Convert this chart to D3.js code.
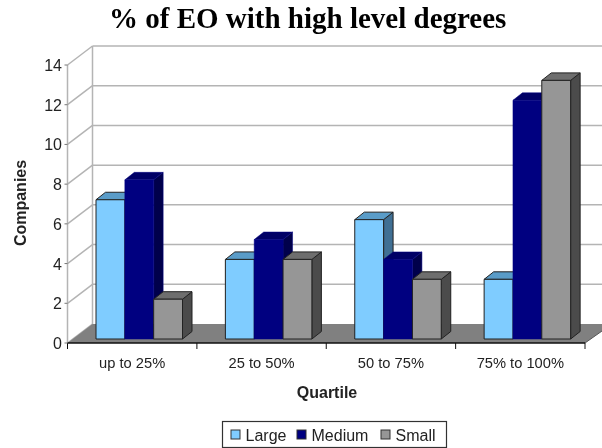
<!DOCTYPE html>
<html><head><meta charset="utf-8">
<script src="https://cdn.jsdelivr.net/npm/d3@7"></script>
<style>html,body{margin:0;padding:0;background:#fff}svg{display:block}text{font-family:"Liberation Sans",Arial,sans-serif;fill:#222}</style>
</head><body><svg id="c" width="602" height="448"></svg>
<script>
const categories = ["up to 25%", "25 to 50%", "50 to 75%", "75% to 100%"];
const seriesNames = ["Large", "Medium", "Small"];
const large = [7, 4, 6, 3];
const medium = [8, 5, 4, 12];
const small = [2, 4, 3, 13];
const valueTicks = [0, 2, 4, 6, 8, 10, 12, 14];
const fills = ["#7FCCFF", "#000080", "#969696"];
const tops = ["#5A9CC8", "#000066", "#6E6E6E"];
const sides = ["#3F6F94", "#00004C", "#4B4B4B"];

const svg = d3.select("#c");
svg.append("defs").append("filter").attr("id", "soft").attr("x", "-2%").attr("y", "-2%").attr("width", "104%").attr("height", "104%")
  .append("feGaussianBlur").attr("stdDeviation", 0.4);
const root = svg.append("g").attr("filter", "url(#soft)");

const dx = 25, dy = -19;
const x = d3.scaleBand().domain(categories).range([67.5, 585]);
const y = d3.scaleLinear().domain([0, 14]).range([343, 65]);
const barY = d3.scaleLinear().domain([0, 14]).range([339, 60.5]);
const inner = d3.scaleBand().domain(seriesNames).range([28.5, 115]);
const all = [large, medium, small];
const grid = "#b4b4b4";
const x0 = x.range()[0], x1 = x.range()[1];

// walls
const g = root.append("g");
valueTicks.forEach(v => {
  g.append("line").attr("x1", x0).attr("y1", y(v)).attr("x2", x0 + dx).attr("y2", y(v) + dy)
    .attr("stroke", grid).attr("stroke-width", 1.5);
  if (v > 0) g.append("line").attr("x1", x0 + dx).attr("y1", y(v) + dy).attr("x2", 602).attr("y2", y(v) + dy)
    .attr("stroke", grid).attr("stroke-width", 1.5);
});
g.append("line").attr("x1", x0 + dx).attr("x2", x0 + dx).attr("y1", y(0) + dy).attr("y2", y(14) + dy).attr("stroke", grid).attr("stroke-width", 1.5);
g.append("line").attr("x1", x0).attr("x2", x0).attr("y1", y(0)).attr("y2", y(14)).attr("stroke", grid).attr("stroke-width", 1.5);
// floor
g.append("path").attr("d", `M${x0},${y(0)}L${x0 + dx},${y(0) + dy}L602,${y(0) + dy}L602,${y(0) - 12}L${x1},${y(0)}Z`).attr("fill", "#808080");

// bars
categories.forEach((c, i) => {
  seriesNames.forEach((s, j) => {
    const v = all[j][i];
    const bx = x(c) + inner(s), w = inner.bandwidth(), t = barY(v), b = barY(0);
    const ddx = 9.5, ddy = -7.5;
    const bar = root.append("g").attr("stroke", j === 1 ? "#000080" : "#222").attr("stroke-width", j === 1 ? 0.5 : 1).attr("stroke-linejoin", "round");
    bar.append("path").attr("d", `M${bx + w},${t}L${bx + w + ddx},${t + ddy}L${bx + w + ddx},${b + ddy}L${bx + w},${b}Z`).attr("fill", sides[j]);
    bar.append("path").attr("d", `M${bx},${t}L${bx + ddx},${t + ddy}L${bx + w + ddx},${t + ddy}L${bx + w},${t}Z`).attr("fill", tops[j]);
    bar.append("rect").attr("x", bx).attr("y", t).attr("width", w).attr("height", b - t).attr("fill", fills[j]);
  });
});

// axes
root.append("line").attr("x1", x0).attr("x2", x1).attr("y1", y(0)).attr("y2", y(0)).attr("stroke", "#111").attr("stroke-width", 1.5);
root.append("line").attr("x1", x1).attr("y1", y(0)).attr("x2", 602).attr("y2", y(0) - 12).attr("stroke", "#555").attr("stroke-width", 1);
const tickXs = categories.map(c => x(c)).concat([x1]);
tickXs.forEach(t => root.append("line").attr("x1", t).attr("x2", t).attr("y1", y(0)).attr("y2", y(0) + 6).attr("stroke", "#111"));
valueTicks.forEach(v => {
  root.append("line").attr("x1", x0 - 3).attr("x2", x0).attr("y1", y(v)).attr("y2", y(v)).attr("stroke", "#777");
  root.append("text").attr("x", 62).attr("y", y(v) + 6).attr("text-anchor", "end").attr("font-size", 16).text(v);
});
categories.forEach(c => root.append("text").attr("x", x(c) + x.bandwidth() / 2).attr("y", 368).attr("text-anchor", "middle").attr("font-size", 14.7).text(c));

root.append("text").attr("x", 109).attr("y", 28).style("font-family", '"Liberation Serif",serif').style("fill", "#000").attr("font-size", 29).attr("font-weight", "bold").text("% of EO with high level degrees");
root.append("text").attr("x", 327).attr("y", 398).attr("text-anchor", "middle").attr("font-size", 16).attr("font-weight", "bold").text("Quartile");
root.append("text").attr("transform", "translate(26,203) rotate(-90)").attr("text-anchor", "middle").attr("font-size", 16).attr("font-weight", "bold").text("Companies");

// legend
root.append("rect").attr("x", 222.5).attr("y", 421.5).attr("width", 224).attr("height", 26).attr("fill", "#fff").attr("stroke", "#333").attr("stroke-width", 1.2);
const legendX = [231, 297, 381];
seriesNames.forEach((s, j) => {
  root.append("rect").attr("x", legendX[j]).attr("y", 430).attr("width", 9).attr("height", 9).attr("fill", fills[j]).attr("stroke", "#333");
  root.append("text").attr("x", legendX[j] + 14.5).attr("y", 441).attr("font-size", 16).text(s);
});
</script></body></html>
